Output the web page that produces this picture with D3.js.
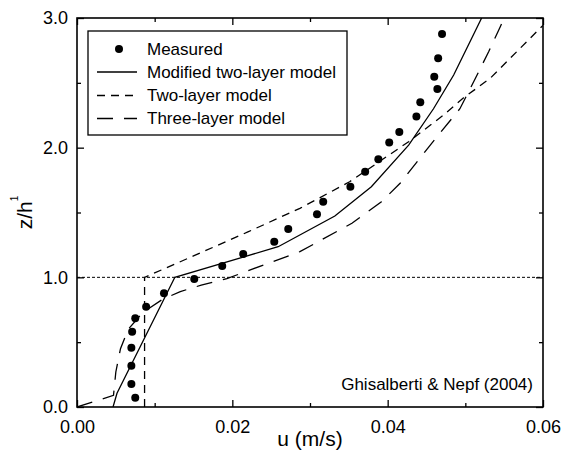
<!DOCTYPE html>
<html>
<head>
<meta charset="utf-8">
<script src="https://cdn.jsdelivr.net/npm/d3@7"></script>
<style>
  html, body { margin: 0; padding: 0; background: #fff; }
  svg { display: block; font-family: Arial, "Liberation Sans", Helvetica, sans-serif; }
</style>
</head>
<body>
<svg id="chart" width="570" height="462"></svg>
<script>
// Measured mean velocity profile
const measuredU = [0.0075, 0.0070, 0.0070, 0.0070, 0.0071, 0.0075, 0.0089, 0.0112, 0.0151, 0.0187,
                   0.0214, 0.0254, 0.0272, 0.0309, 0.0317, 0.0352, 0.0371, 0.0388, 0.0402, 0.0415,
                   0.0437, 0.0442, 0.0464, 0.0460, 0.0465, 0.0470];
const measuredZ = [0.072, 0.177, 0.319, 0.457, 0.581, 0.684, 0.774, 0.877, 0.987, 1.087,
                   1.180, 1.275, 1.373, 1.486, 1.583, 1.699, 1.815, 1.910, 2.040, 2.120,
                   2.240, 2.350, 2.452, 2.547, 2.689, 2.877];

// Modified two-layer model
const modTwoU = [0.00464, 0.00515, 0.0126, 0.0259, 0.0332, 0.0379, 0.0427, 0.0459, 0.0485, 0.0521];
const modTwoZ = [0.000, 0.106, 1.000, 1.236, 1.473, 1.699, 2.020, 2.300, 2.560, 3.000];

// Two-layer model
const twoU = [0.0087, 0.0087, 0.0150, 0.0220, 0.0287, 0.0351, 0.0386, 0.0427, 0.0472, 0.0497, 0.0532, 0.0600];
const twoZ = [0.000, 1.000, 1.165, 1.350, 1.532, 1.737, 1.879, 2.046, 2.252, 2.381, 2.535, 2.943];

// Three-layer model
const threeU = [0.0000, 0.0047, 0.0050, 0.0056, 0.0066, 0.0085, 0.0110, 0.0133, 0.0160, 0.0193,
                0.0246, 0.0287, 0.0354, 0.0392, 0.0416, 0.0439, 0.0467, 0.0493, 0.0513, 0.0530,
                0.0545, 0.0550];
const threeZ = [0.000, 0.090, 0.270, 0.450, 0.600, 0.730, 0.830, 0.890, 0.940, 0.990,
                1.108, 1.198, 1.417, 1.583, 1.725, 1.900, 2.110, 2.300, 2.535, 2.740,
                2.933, 3.000];

// Axis ticks
const xMajor = [0, 0.02, 0.04, 0.06];
const xMinor = [0.01, 0.03, 0.05];
const yMajor = [0, 1, 2, 3];
const yMinor = [0.5, 1.5, 2.5];
const canopyTop = 1.0;

const legendItems = ["Measured", "Modified two-layer model", "Two-layer model", "Three-layer model"];
const sourceNote = "Ghisalberti & Nepf (2004)";

const svg = d3.select("#chart");
const margin = { left: 77, top: 18, right: 27, bottom: 55 };
const W = 570, H = 462;
const x = d3.scaleLinear().domain([0, 0.06]).range([margin.left, W - margin.right]);
const y = d3.scaleLinear().domain([0, 3]).range([H - margin.bottom, margin.top]);

const clipId = "plot-clip";
svg.append("defs").append("clipPath").attr("id", clipId)
  .append("rect")
  .attr("x", x(0)).attr("y", y(3))
  .attr("width", x(0.06) - x(0)).attr("height", y(0) - y(3));

// Axes with inward ticks on all four sides
function styleAxis(g) {
  g.select(".domain").remove();
  g.selectAll(".tick line").attr("stroke", "#000").attr("stroke-width", 1.3);
  g.selectAll(".tick text").attr("fill", "#000");
}
const fmtX = d3.format(".2f"), fmtY = d3.format(".1f");

svg.append("g").attr("transform", `translate(0,${y(0)})`)
  .call(d3.axisBottom(x).tickValues(xMajor).tickSize(-7).tickPadding(13).tickFormat(fmtX))
  .call(styleAxis)
  .call(g => g.selectAll("text").attr("font-size", 18).attr("font-family", "Arial, 'Liberation Sans', sans-serif"));
svg.append("g").attr("transform", `translate(0,${y(0)})`)
  .call(d3.axisBottom(x).tickValues(xMinor).tickSize(-4).tickFormat(""))
  .call(styleAxis);
svg.append("g").attr("transform", `translate(0,${y(3)})`)
  .call(d3.axisTop(x).tickValues(xMajor).tickSize(-7).tickFormat(""))
  .call(styleAxis);
svg.append("g").attr("transform", `translate(0,${y(3)})`)
  .call(d3.axisTop(x).tickValues(xMinor).tickSize(-4).tickFormat(""))
  .call(styleAxis);

svg.append("g").attr("transform", `translate(${x(0)},0)`)
  .call(d3.axisLeft(y).tickValues(yMajor).tickSize(-7).tickPadding(9).tickFormat(fmtY))
  .call(styleAxis)
  .call(g => g.selectAll("text").attr("font-size", 18).attr("font-family", "Arial, 'Liberation Sans', sans-serif"));
svg.append("g").attr("transform", `translate(${x(0)},0)`)
  .call(d3.axisLeft(y).tickValues(yMinor).tickSize(-4).tickFormat(""))
  .call(styleAxis);
svg.append("g").attr("transform", `translate(${x(0.06)},0)`)
  .call(d3.axisRight(y).tickValues(yMajor).tickSize(-7).tickFormat(""))
  .call(styleAxis);
svg.append("g").attr("transform", `translate(${x(0.06)},0)`)
  .call(d3.axisRight(y).tickValues(yMinor).tickSize(-4).tickFormat(""))
  .call(styleAxis);

// Plot frame
svg.append("rect")
  .attr("x", x(0)).attr("y", y(3))
  .attr("width", x(0.06) - x(0)).attr("height", y(0) - y(3))
  .attr("fill", "none").attr("stroke", "#000").attr("stroke-width", 1.6);

// Canopy top reference line
svg.append("line")
  .attr("x1", x(0)).attr("x2", x(0.06))
  .attr("y1", y(canopyTop)).attr("y2", y(canopyTop))
  .attr("stroke", "#000").attr("stroke-width", 1).attr("stroke-dasharray", "3,2");

const plot = svg.append("g").attr("clip-path", `url(#${clipId})`);
const line = d3.line().x(d => x(d[0])).y(d => y(d[1]));

const curves = [
  { u: modTwoU, z: modTwoZ, dash: null },
  { u: twoU, z: twoZ, dash: "8,6" },
  { u: threeU, z: threeZ, dash: "16,11" }
];
curves.forEach(c => {
  plot.append("path")
    .datum(c.u.map((u, i) => [u, c.z[i]]))
    .attr("d", line)
    .attr("fill", "none").attr("stroke", "#000").attr("stroke-width", 1.3)
    .attr("stroke-dasharray", c.dash);
});

plot.selectAll("circle.measured")
  .data(measuredU.map((u, i) => [u, measuredZ[i]]))
  .join("circle").attr("class", "measured")
  .attr("cx", d => x(d[0])).attr("cy", d => y(d[1]))
  .attr("r", 4).attr("fill", "#000");

// Axis titles
svg.append("text")
  .attr("x", (x(0) + x(0.06)) / 2).attr("y", 446)
  .attr("text-anchor", "middle").attr("font-size", 21)
  .text("u (m/s)");

const yTitle = svg.append("text")
  .attr("transform", `translate(32,${(y(0) + y(3)) / 2}) rotate(-90)`)
  .attr("text-anchor", "middle").attr("font-size", 21);
yTitle.append("tspan").text("z/h");
yTitle.append("tspan").attr("font-size", 10).attr("dy", -14).text("1");

// Legend
const lg = svg.append("g");
lg.append("rect")
  .attr("x", 88).attr("y", 31).attr("width", 259).attr("height", 104)
  .attr("fill", "#fff").attr("stroke", "#000").attr("stroke-width", 1.3);
const rowY = [49, 72, 95.5, 118.5];
const lx0 = 97, lx1 = 137;
legendItems.forEach((label, i) => {
  const ry = rowY[i];
  if (i === 0) {
    lg.append("circle").attr("cx", (lx0 + lx1) / 2 + 2).attr("cy", ry).attr("r", 4).attr("fill", "#000");
  } else {
    lg.append("line").attr("x1", lx0).attr("x2", lx1).attr("y1", ry).attr("y2", ry)
      .attr("stroke", "#000").attr("stroke-width", 1.3)
      .attr("stroke-dasharray", curves[i - 1].dash);
  }
  lg.append("text").attr("x", 147).attr("y", ry).attr("dy", "0.35em")
    .attr("font-size", 17).text(label);
});

// Source note
svg.append("text")
  .attr("x", 533).attr("y", 390)
  .attr("text-anchor", "end").attr("font-size", 17)
  .text(sourceNote);
</script>
</body>
</html>
